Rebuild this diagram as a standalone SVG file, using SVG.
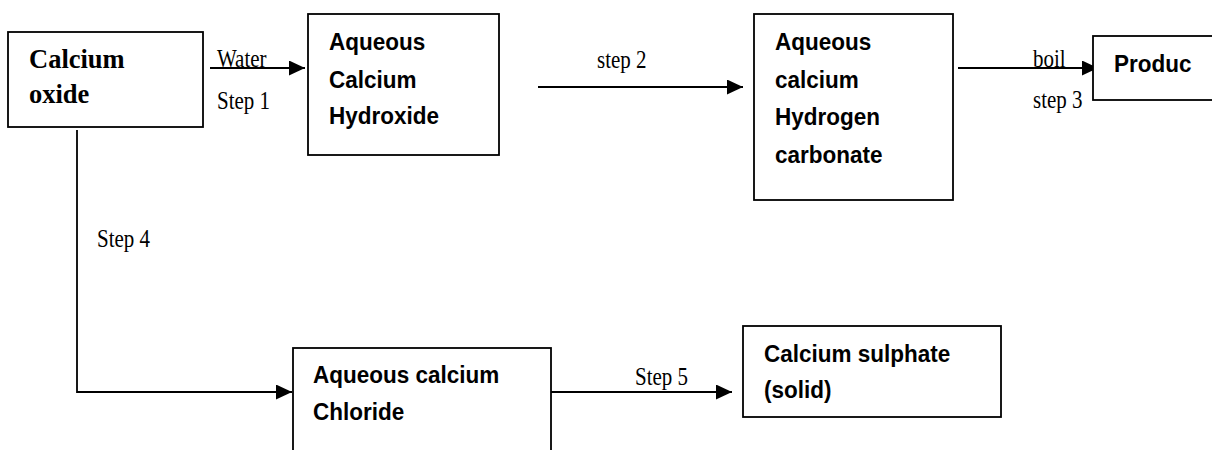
<svg xmlns="http://www.w3.org/2000/svg" width="1212" height="450" viewBox="0 0 1212 450">
<style>
.box{fill:#fff;stroke:#000;stroke-width:1.8}
.con{fill:none;stroke:#000;stroke-width:1.8}
.sb{font-family:"Liberation Sans",Arial,sans-serif;font-weight:bold;font-size:22.5px;fill:#000}
.tb{font-family:"Liberation Serif","Times New Roman",serif;font-weight:bold;font-size:26.5px;fill:#000}
.lb{font-family:"Liberation Serif","Times New Roman",serif;font-size:21px;fill:#000}
</style>
<defs>
<marker id="arr" markerUnits="userSpaceOnUse" markerWidth="17" markerHeight="16" refX="16" refY="7.5" orient="auto">
<path d="M0,0 L16,7.5 L0,15 z" fill="#000"/>
</marker>
</defs>
<rect width="1212" height="450" fill="#fff"/>
<g id="connectors">
<line class="con" x1="210" y1="68" x2="305" y2="68" marker-end="url(#arr)"/>
<line class="con" x1="538" y1="87" x2="743" y2="87" marker-end="url(#arr)"/>
<line class="con" x1="958" y1="68" x2="1098" y2="68" marker-end="url(#arr)"/>
<polyline class="con" points="77,130 77,392 292,392" marker-end="url(#arr)"/>
<line class="con" x1="551" y1="392" x2="732" y2="392" marker-end="url(#arr)"/>
<text class="lb" transform="translate(217,67) scale(1,1.15)">Water</text>
<text class="lb" transform="translate(217,109) scale(1,1.15)">Step 1</text>
<text class="lb" transform="translate(597,68) scale(1,1.15)">step 2</text>
<text class="lb" transform="translate(1033,67) scale(1,1.15)">boil</text>
<text class="lb" transform="translate(1033,108) scale(1,1.15)">step 3</text>
<text class="lb" transform="translate(97,247) scale(1,1.15)">Step 4</text>
<text class="lb" transform="translate(635,385) scale(1,1.15)">Step 5</text>
</g>
<g id="calcium-oxide">
<rect class="box" x="8" y="32" width="195" height="95"/>
<text class="tb" x="29" y="68">Calcium</text>
<text class="tb" x="29" y="103">oxide</text>
</g>
<g id="calcium-hydroxide">
<rect class="box" x="308" y="14" width="191" height="141"/>
<text class="sb" transform="translate(329,50) scale(1,1.1)">Aqueous</text>
<text class="sb" transform="translate(329,88) scale(1,1.1)">Calcium</text>
<text class="sb" transform="translate(329,124) scale(1,1.1)">Hydroxide</text>
</g>
<g id="calcium-hydrogen-carbonate">
<rect class="box" x="754" y="14" width="199" height="186"/>
<text class="sb" transform="translate(775,50) scale(1,1.1)">Aqueous</text>
<text class="sb" transform="translate(775,88) scale(1,1.1)">calcium</text>
<text class="sb" transform="translate(775,125) scale(1,1.1)">Hydrogen</text>
<text class="sb" transform="translate(775,163) scale(1,1.1)">carbonate</text>
</g>
<g id="product">
<rect class="box" x="1093" y="36" width="140" height="64"/>
<text class="sb" transform="translate(1114,72) scale(1,1.1)">Produc</text>
</g>
<g id="calcium-chloride">
<rect class="box" x="293" y="348" width="258" height="120"/>
<text class="sb" transform="translate(313,383) scale(1,1.1)">Aqueous calcium</text>
<text class="sb" transform="translate(313,420) scale(1,1.1)">Chloride</text>
</g>
<g id="calcium-sulphate">
<rect class="box" x="743" y="326" width="258" height="91"/>
<text class="sb" transform="translate(764,362) scale(1,1.1)">Calcium sulphate</text>
<text class="sb" transform="translate(764,398) scale(1,1.1)">(solid)</text>
</g>
</svg>
